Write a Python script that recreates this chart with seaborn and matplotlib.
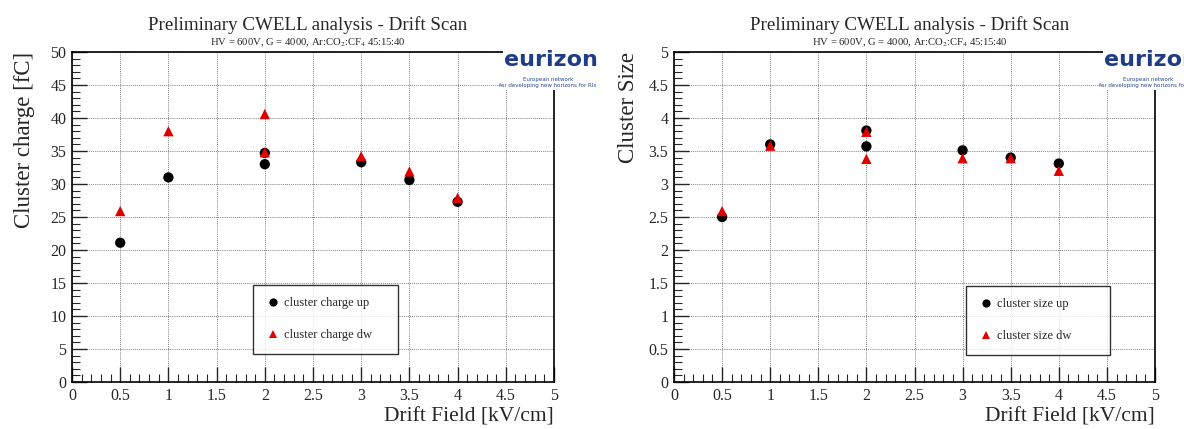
import numpy as np
import pandas as pd
import matplotlib
matplotlib.use('Agg')
import matplotlib.pyplot as plt
import seaborn as sns
from matplotlib.ticker import MultipleLocator, FormatStrFormatter
from matplotlib.patches import Rectangle

# ------------------------ DATA ------------------------
drift_field = [0.5, 1.0, 2.0, 2.0, 3.0, 3.5, 4.0]

charge_up = [21.1, 31.0, 33.0, 34.7, 33.3, 30.6, 27.3]
charge_dw = [25.9, 38.0, 40.6, 34.8, 34.2, 31.9, 27.9]

size_up = [2.50, 3.60, 3.57, 3.81, 3.51, 3.40, 3.31]
size_dw = [2.59, 3.58, 3.38, 3.79, 3.39, 3.39, 3.20]

title = 'Preliminary CWELL analysis - Drift Scan'
subtitle = r'HV = 600V, G = 4000, Ar:CO$_2$:CF$_4$ 45:15:40'

sns.set_style('white')
plt.rcParams['font.family'] = ['Liberation Serif', 'DejaVu Serif']
plt.rcParams['mathtext.fontset'] = 'stix'

fig = plt.figure(figsize=(11.84, 4.29), dpi=100)
W, H = 1184, 429


def px_axes(x0, x1, ytop, ybot):
    return fig.add_axes([x0 / W, 1 - ybot / H, (x1 - x0) / W, (ybot - ytop) / H])


def draw_panel(ax, up, dw, lab_up, lab_dw, ylabel, ymax, ymajor, yminor, leg_box, ylab_x, title_x):
    df = pd.DataFrame({
        'x': drift_field * 2,
        'y': up + dw,
        'series': [lab_up] * len(up) + [lab_dw] * len(dw),
    })
    sns.scatterplot(data=df, x='x', y='y', hue='series', style='series',
                    palette={lab_up: 'black', lab_dw: '#e00000'},
                    markers={lab_up: 'o', lab_dw: '^'},
                    s=55, linewidth=0, ax=ax, zorder=3)
    ax.set_xlim(0, 5)
    ax.set_ylim(0, ymax)
    ax.xaxis.set_major_locator(MultipleLocator(0.5))
    ax.xaxis.set_minor_locator(MultipleLocator(0.1))
    ax.yaxis.set_major_locator(MultipleLocator(ymajor))
    ax.yaxis.set_minor_locator(MultipleLocator(yminor))
    ax.xaxis.set_major_formatter(FormatStrFormatter('%g'))
    ax.yaxis.set_major_formatter(FormatStrFormatter('%g'))
    ax.tick_params(which='major', direction='in', length=11, width=1, labelsize=11.5,
                   pad=4, bottom=True, left=True, top=False, right=False)
    ax.tick_params(which='minor', direction='in', length=6, width=0.8,
                   bottom=True, left=True, top=False, right=False)
    ax.grid(True, which='major', linestyle=(0, (1, 1.5)), color='#555555', linewidth=0.6)
    for s in ax.spines.values():
        s.set_color('black')
        s.set_linewidth(1.2)
    ax.set_xlabel('Drift Field [kV/cm]', fontsize=15.5, loc='right', labelpad=3)
    ax.set_ylabel(ylabel, fontsize=16.5, loc='top')
    ax.yaxis.set_label_coords(ylab_x, 1.0)
    fig.text(title_x / W, 1 - 25 / H, title, fontsize=13.7, ha='center', va='center')
    fig.text(title_x / W, 1 - 43 / H, subtitle, fontsize=7.7, ha='center', va='center')
    leg = ax.legend(loc='upper left', bbox_to_anchor=leg_box, mode='expand',
                    fontsize=9, frameon=True, fancybox=False, shadow=False,
                    handletextpad=0.3, labelspacing=1.6, borderpad=1.0, handlelength=1.2,
                    borderaxespad=0, markerscale=0.8)
    leg.get_frame().set_edgecolor('black')
    leg.get_frame().set_linewidth(1.0)


def draw_logo(x0, ycen):
    fig.patches.append(Rectangle((x0 / W, 1 - 90 / H), 110 / W, 46 / H,
                                 transform=fig.transFigure, facecolor='white',
                                 edgecolor='none', zorder=5))
    fig.text((x0 + 1) / W, 1 - ycen / H, 'eurizon', fontsize=16, fontweight='bold',
             family='DejaVu Sans', color='#1f3c88', ha='left', va='center', zorder=6)
    fig.text((x0 + 45) / W, 1 - 79 / H, 'European network', fontsize=4,
             family='DejaVu Sans', color='#2a4a90', ha='center', va='center', zorder=6)
    fig.text((x0 + 45) / W, 1 - 86 / H, 'for developing new horizons for RIs', fontsize=4,
             family='DejaVu Sans', color='#2a4a90', ha='center', va='center', zorder=6)


ax1 = px_axes(72, 554, 52, 382)
draw_panel(ax1, charge_up, charge_dw, 'cluster charge up', 'cluster charge dw',
           'Cluster charge [fC]', 50, 5, 1, (0.376, 0.088, 0.30, 0.206), -0.077, 308)

ax2 = px_axes(674, 1155, 52, 382)
draw_panel(ax2, size_up, size_dw, 'cluster size up', 'cluster size dw',
           'Cluster Size', 5, 0.5, 0.1, (0.607, 0.091, 0.30, 0.20), -0.072, 910)

draw_logo(503, 60)
draw_logo(1103, 60)

fig.savefig('out.png', dpi=100)
